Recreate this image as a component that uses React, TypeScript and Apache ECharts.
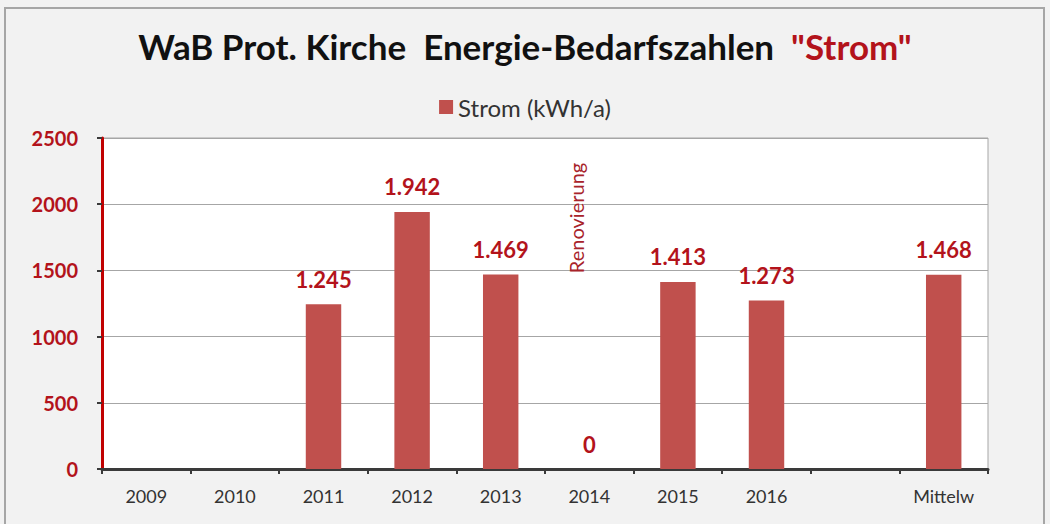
import React, { useEffect, useRef } from "react";
import * as echarts from "echarts";

const categories = ["2009", "2010", "2011", "2012", "2013", "2014", "2015", "2016", "", "Mittelw"];
const stromValues: (number | null)[] = [null, null, 1245, 1942, 1469, 0, 1413, 1273, null, 1468];
const yTicks = { min: 0, max: 2500, interval: 500 };
const annotationCategory = "2014";
const annotationValue = 1896;
const annotationText = "Renovierung";

const FONT = "Lato, 'Open Sans', sans-serif";

export default function App() {
  const ref = useRef<HTMLDivElement>(null);
  useEffect(() => {
    if (!ref.current) return;
    const chart = echarts.init(ref.current, null, { renderer: "svg" });
    const fmt = (v: number) => v.toLocaleString("de-DE");
    chart.setOption({
      animation: false,
      backgroundColor: "#f2f2f2",
      textStyle: { fontFamily: FONT },
      title: {
        left: "center",
        top: 23,
        text: '{a|WaB Prot. Kirche  Energie-Bedarfszahlen  }{b|"Strom"}',
        textStyle: {
          rich: {
            a: { fontSize: 35, fontWeight: "bold", color: "#111111", fontFamily: FONT },
            b: { fontSize: 35, fontWeight: "bold", color: "#b3131b", fontFamily: FONT },
          },
        },
      },
      legend: {
        top: 90,
        left: "center",
        itemWidth: 14,
        itemHeight: 14,
        itemGap: 5,
        icon: "rect",
        textStyle: { fontSize: 24, color: "#333333", fontFamily: FONT },
        data: ["Strom (kWh/a)"],
      },
      graphic: [
        {
          type: "rect",
          shape: { x: 5, y: 8, width: 1039, height: 530 },
          style: { fill: "none", stroke: "#a6a6a6", lineWidth: 2 },
          silent: true,
          z: -1,
        },
      ],
      grid: {
        left: 102,
        right: 62,
        top: 138,
        bottom: 55,
        show: true,
        backgroundColor: "#ffffff",
        borderColor: "#a6a6a6",
        borderWidth: 1,
      },
      xAxis: {
        type: "category",
        data: categories,
        axisLine: { lineStyle: { color: "#3a3a3a", width: 3 } },
        axisTick: { show: true, length: 5, lineStyle: { color: "#3a3a3a", width: 2 } },
        axisLabel: { color: "#333333", fontSize: 18, margin: 18, fontFamily: FONT },
      },
      yAxis: {
        type: "value",
        min: yTicks.min,
        max: yTicks.max,
        interval: yTicks.interval,
        axisLine: { show: true, lineStyle: { color: "#c00000", width: 3 } },
        axisTick: { show: true, length: 5, lineStyle: { color: "#3a3a3a", width: 2 } },
        axisLabel: {
          color: "#b3131b",
          fontSize: 20,
          fontWeight: "bold",
          margin: 24,
          fontFamily: FONT,
          formatter: (v: number) => String(v),
        },
        splitLine: { lineStyle: { color: "#a6a6a6", width: 1 } },
      },
      series: [
        {
          name: "Strom (kWh/a)",
          type: "bar",
          data: stromValues.map((v) => (v === null ? "-" : v)),
          barWidth: "40%",
          itemStyle: { color: "#c0504d" },
          label: {
            show: true,
            position: "top",
            distance: 14,
            color: "#b3131b",
            fontSize: 22,
            fontWeight: "bold",
            fontFamily: FONT,
            formatter: (p: any) => fmt(p.value),
          },
          markPoint: {
            symbol: "circle",
            symbolSize: 0,
            silent: true,
            data: [
              {
                coord: [annotationCategory, annotationValue],
                label: {
                  show: true,
                  position: "inside",
                  formatter: annotationText,
                  rotate: 90,
                  offset: [0, -13],
                  color: "#a8232a",
                  fontSize: 20,
                  fontFamily: FONT,
                },
              },
            ],
          },
        },
      ],
    });
    return () => chart.dispose();
  }, []);
  return (
    <div
      ref={ref}
      style={{ position: "fixed", left: 0, top: 0, width: 1050, height: 524 }}
    />
  );
}
